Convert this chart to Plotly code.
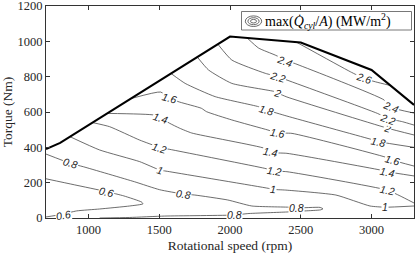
import plotly.graph_objects as go

# ---- data -------------------------------------------------------------------
# Full-load (max torque) limit curve
rpm_limit = [700, 800, 2000, 2500, 3000, 3300]
torque_limit = [390, 425, 1027, 993, 838, 640]

# Contour lines of max(Qdot_cyl/A) in MW/m^2 (rpm, torque) per level
c06_rpm = [700, 900, 1130, 1250, 1376, 1385, 1291, 1079, 916, 810, 700]
c06_tq = [222, 188, 149, 125, 90, 80, 68, 51, 40, 20, 6]

c08_rpm = [700, 871, 965, 1326, 1503, 1668, 1751, 1984, 2154, 2423, 2473, 2636, 2657,
           2640, 2529, 2402, 2126, 2034, 1539, 1291, 1079]
c08_tq = [362, 310, 290, 205, 160, 136, 130, 102, 68, 61, 57, 60, 52,
          46, 40, 34, 25, 17, 11, 3, 0]

c10_rpm = [870, 1079, 1362, 1503, 1574, 2270, 2303, 2394, 2748, 2989, 3098, 3300]
c10_tq = [460, 385, 319, 272, 262, 168, 162, 158, 130, 68, 61, 68]

c12_rpm = [1030, 1149, 1362, 1503, 1597, 2246, 2317, 2402, 3110, 3202, 3300]
c12_tq = [540, 517, 441, 400, 385, 281, 266, 262, 158, 125, 85]

c14_rpm = [1135, 1461, 1510, 1574, 1645, 1730, 2246, 2289, 2402, 3060, 3110, 3300]
c14_tq = [592, 583, 566, 536, 508, 481, 394, 371, 366, 272, 262, 238]

c16_rpm = [1305, 1510, 1574, 1645, 1798, 1834, 2013, 2268, 2338, 2438, 3096, 3145, 3300]
c16_tq = [677, 713, 677, 656, 621, 602, 555, 498, 481, 479, 345, 328, 294]

c18_rpm = [1585, 1683, 1895, 2202, 2261, 2402, 2989, 3051, 3300]
c18_tq = [817, 762, 687, 630, 611, 577, 447, 432, 400]

c20_rpm = [1770, 1848, 2013, 2320, 2341, 2402, 3110, 3300]
c20_tq = [910, 838, 762, 715, 706, 685, 509, 470]

c22_rpm = [1915, 2013, 2249, 2341, 2402, 3042, 3113, 3219, 3300]
c22_tq = [983, 894, 819, 800, 781, 592, 564, 545, 526]

c24_rpm = [2120, 2202, 2320, 2388, 2473, 3089, 3132, 3300]
c24_tq = [1020, 962, 922, 895, 870, 668, 628, 594]

c26_rpm = [2470, 2850, 2945, 3027, 3133]
c26_tq = [995, 828, 791, 771, 750]

# Contour labels
label_text = ["0.6", "0.6", "0.8", "0.8", "0.8", "0.8", "1", "1", "1",
              "1.2", "1.2", "1.2", "1.4", "1.4", "1.4", "1.6", "1.6", "1.6",
              "1.8", "1.8", "2", "2", "2.2", "2.2", "2.4", "2.4", "2.6"]
label_rpm = [1130, 824, 873, 1668, 2034, 2473, 1503, 2303, 3098,
             1503, 2317, 3110, 1510, 2289, 3110, 1574, 2338, 3145,
             2258, 3051, 2338, 3110, 2338, 3115, 2388, 3140, 2945]
label_tq = [149, 17, 310, 136, 16, 55, 272, 162, 61,
            396, 266, 158, 564, 371, 262, 677, 479, 328,
            611, 432, 706, 508, 800, 562, 888, 627, 791]

x_ticks = [1000, 1500, 2000, 2500, 3000]
y_ticks = [0, 200, 400, 600, 800, 1000, 1200]

# ---- styling (layout only) ----------------------------------------------------
label_angle = [14, -10, 17, 8, 0, 0, 18, 5, 0,
               17, 9, 12, 17, 11, 11, 15, 11, 15,
               17, 12, 17, 17, 17, 20, 20, 22, 17]

LINE_C = "#3c3c3c"
SERIF = "Liberation Serif, DejaVu Serif, serif"
SANS = "Liberation Sans, Arial, sans-serif"

fig = go.Figure()

lines = [(c06_rpm, c06_tq), (c08_rpm, c08_tq), (c10_rpm, c10_tq), (c12_rpm, c12_tq),
         (c14_rpm, c14_tq), (c16_rpm, c16_tq), (c18_rpm, c18_tq), (c20_rpm, c20_tq),
         (c22_rpm, c22_tq), (c24_rpm, c24_tq), (c26_rpm, c26_tq)]
for xs, ys in lines:
    fig.add_trace(go.Scatter(x=xs, y=ys, mode="lines",
                             line=dict(color=LINE_C, width=0.75, shape="spline", smoothing=0.5),
                             hoverinfo="skip", showlegend=False))

fig.add_trace(go.Scatter(x=rpm_limit, y=torque_limit, mode="lines",
                         line=dict(color="black", width=2.1),
                         hoverinfo="skip", showlegend=False))

for t, xr, yt, ang in zip(label_text, label_rpm, label_tq, label_angle):
    fig.add_annotation(x=xr, y=yt, text=t, showarrow=False, textangle=ang,
                       font=dict(family=SANS, size=10.5, color="#222222", style="italic"),
                       bgcolor="white", borderpad=0)

# legend box (paper coordinates)
L, R, T, B = 46, 414, 6, 218
def px2x(p):
    return (p - L) / (R - L)
def py2y(p):
    return (B - p) / (B - T)

fig.add_shape(type="rect", xref="paper", yref="paper",
              x0=px2x(241.5), x1=px2x(411.5), y0=py2y(30), y1=py2y(11.5),
              line=dict(color="#555555", width=0.8), fillcolor="white", layer="above")
cx, cy = 253.5, 21.2
for rx, ry in [(8.2, 5.3), (5.6, 3.5), (3.0, 1.8)]:
    fig.add_shape(type="circle", xref="paper", yref="paper",
                  x0=px2x(cx - rx), x1=px2x(cx + rx), y0=py2y(cy + ry), y1=py2y(cy - ry),
                  line=dict(color="#444444", width=0.8), layer="above")
fig.add_annotation(xref="paper", yref="paper", x=px2x(263), y=py2y(21), xanchor="left",
                   yanchor="middle", showarrow=False,
                   text="max(<i>Q\u0307</i><sub><i>cyl</i></sub>/<i>A</i>) (MW/m<sup>2</sup>)",
                   font=dict(family=SERIF, size=14, color="black"))

axis_common = dict(showline=True, mirror="ticks", linecolor="#333333", linewidth=0.8,
                   ticks="inside", ticklen=4, tickwidth=0.8, tickcolor="#333333",
                   showgrid=False, zeroline=False, automargin=False,
                   ticklabeloverflow="allow",
                   tickfont=dict(family=SERIF, size=12.5, color="#262626"))

fig.update_layout(
    width=415, height=254, autosize=False,
    margin=dict(l=L, r=415 - R, t=T, b=254 - B),
    paper_bgcolor="white", plot_bgcolor="white",
    xaxis=dict(range=[700, 3300], tickvals=x_ticks,
               title=dict(text="Rotational speed (rpm)", standoff=4,
                          font=dict(family=SERIF, size=13.5, color="#262626")),
               **axis_common),
    yaxis=dict(range=[0, 1200], tickvals=y_ticks,
               title=dict(text="Torque (Nm)", standoff=4,
                          font=dict(family=SERIF, size=13.5, color="#262626")),
               **axis_common),
)

fig.write_html("out.html", config={"displayModeBar": False},
               post_script="document.body.style.margin='0';document.body.style.overflow='hidden';")
